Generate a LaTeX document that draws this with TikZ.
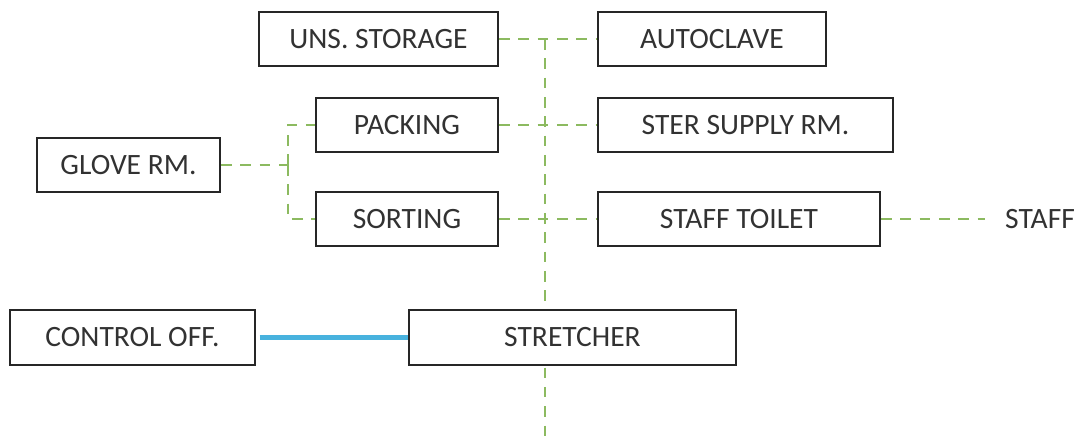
\documentclass[tikz,border=0pt]{standalone}
\usepackage{fontspec}
\setmainfont{Carlito}
\usepackage{tikz}
\usetikzlibrary{positioning, backgrounds, calc}
\usepackage{xcolor}

\definecolor{flowgreen}{RGB}{140,186,96}
\definecolor{flowblue}{RGB}{72,178,222}
\definecolor{inkgray}{RGB}{50,50,50}

\tikzset{
  room/.style={draw=black!85, line width=1.2pt, fill=white, minimum height=1.08cm,
    text=inkgray, font=\fontsize{16.8}{19}\selectfont, inner sep=0pt},
  cleanflow/.style={draw=flowgreen, dashed, dash pattern=on 6pt off 5pt, line width=1pt},
  staffflow/.style={draw=flowblue, line width=3pt}
}

\begin{document}
\begin{tikzpicture}

\useasboundingbox (0,0) rectangle (21.64,8.86);

% rooms
\node[room, minimum width=4.78cm] (uns) at (7.57,8.08) {UNS. STORAGE};
\node[room, minimum width=4.56cm] (autoclave) at (14.24,8.08) {AUTOCLAVE};
\node[room, minimum width=3.64cm] (packing) at (8.14,6.36) {PACKING};
\node[room, minimum width=5.90cm] (ster) at (14.91,6.36) {STER SUPPLY RM.};
\node[room, minimum width=3.66cm] (glove) at (2.57,5.56) {GLOVE RM.};
\node[room, minimum width=3.64cm] (sorting) at (8.14,4.48) {SORTING};
\node[room, minimum width=5.64cm] (toilet) at (14.78,4.48) {STAFF TOILET};
\node[text=inkgray, font=\fontsize{16.8}{19}\selectfont, anchor=west] (staff) at (19.98,4.48) {STAFF};
\node[room, minimum width=4.90cm, minimum height=1.1cm] (control) at (2.65,2.11) {CONTROL OFF.};
\node[room, minimum width=6.54cm, minimum height=1.1cm] (stretcher) at (11.45,2.11) {STRETCHER};

% junction points
\coordinate (spinetop) at (10.9,8.08);
\coordinate (spinebot) at (10.9,0.06);
\coordinate (gj) at (5.76,5.56);

% clean corridor lines
\begin{scope}[on background layer]
\draw[cleanflow] (spinetop) -- (spinebot);
\end{scope}
\draw[cleanflow] (uns.east) -- (autoclave.west);
\draw[cleanflow] (packing.east) -- (ster.west);
\draw[cleanflow] (sorting.east) -- (toilet.west);
\draw[cleanflow] (toilet.east) -- ([xshift=-8pt]staff.west);
\draw[cleanflow] (glove.east) -- (gj);
\draw[cleanflow] (gj) |- (packing.west);
\draw[cleanflow] (gj) |- (sorting.west);

% staff link
\draw[staffflow] ([xshift=2pt]control.east) -- (stretcher.west);

\end{tikzpicture}
\end{document}
